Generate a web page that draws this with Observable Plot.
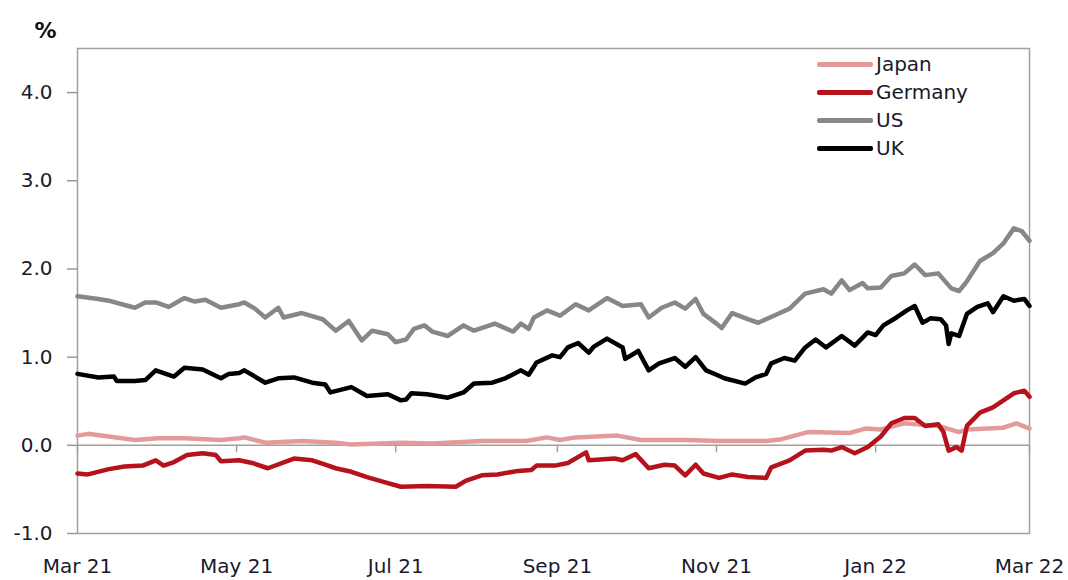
<!DOCTYPE html>
<html>
<head>
<meta charset="utf-8">
<script src="https://cdn.jsdelivr.net/npm/d3@7"></script>
<script src="https://cdn.jsdelivr.net/npm/@observablehq/plot@0.6"></script>
<style>
  html, body { margin: 0; padding: 0; background: #fff; }
  #wrap { position: relative; width: 1068px; height: 580px; font-family: "DejaVu Sans", Verdana, sans-serif; }
  #legend { position: absolute; left: 817px; top: 50px; }
  .row { display: flex; align-items: center; height: 28px; font-size: 20px; color: #1a1a2a; }
  .sw { width: 56px; height: 5px; border-radius: 2px; margin-right: 3px; }
  svg g[aria-label="y-axis tick"] path { stroke: #999; stroke-width: 1.5; }
</style>
</head>
<body>
<div id="wrap"><div id="legend"></div></div>
<script>
// ---- data ----
const seriesNames = ["Japan", "Germany", "US", "UK"];
const seriesColors = ["#e39a9b", "#b5121b", "#878787", "#000000"];

const japanDates = ["2021-03-01","2021-03-05","2021-03-13","2021-03-23","2021-04-01","2021-04-11","2021-04-25","2021-05-02","2021-05-04","2021-05-12","2021-05-26","2021-06-08","2021-06-14","2021-07-03","2021-07-15","2021-08-03","2021-08-20","2021-08-28","2021-09-02","2021-09-08","2021-09-24","2021-10-03","2021-10-20","2021-11-02","2021-11-20","2021-11-26","2021-12-06","2021-12-22","2021-12-28","2022-01-03","2022-01-12","2022-01-25","2022-02-02","2022-02-05","2022-02-19","2022-02-24","2022-03-01"];
const japanValues = [0.11,0.13,0.10,0.06,0.08,0.08,0.06,0.08,0.09,0.03,0.05,0.03,0.01,0.03,0.02,0.05,0.05,0.09,0.06,0.09,0.11,0.06,0.06,0.05,0.05,0.07,0.15,0.14,0.19,0.18,0.25,0.22,0.15,0.18,0.20,0.25,0.19];

const germanyDates = ["2021-03-01","2021-03-05","2021-03-13","2021-03-19","2021-03-26","2021-03-31","2021-04-03","2021-04-07","2021-04-12","2021-04-18","2021-04-23","2021-04-25","2021-05-02","2021-05-07","2021-05-13","2021-05-23","2021-05-30","2021-06-04","2021-06-08","2021-06-14","2021-06-20","2021-06-27","2021-07-03","2021-07-13","2021-07-24","2021-07-28","2021-08-03","2021-08-09","2021-08-17","2021-08-22","2021-08-24","2021-08-31","2021-09-05","2021-09-12","2021-09-13","2021-09-23","2021-09-26","2021-10-01","2021-10-06","2021-10-12","2021-10-16","2021-10-20","2021-10-24","2021-10-27","2021-11-02","2021-11-07","2021-11-13","2021-11-20","2021-11-22","2021-11-29","2021-12-05","2021-12-12","2021-12-15","2021-12-19","2021-12-24","2021-12-29","2022-01-03","2022-01-07","2022-01-12","2022-01-16","2022-01-20","2022-01-25","2022-01-27","2022-01-29","2022-02-01","2022-02-03","2022-02-05","2022-02-10","2022-02-15","2022-02-19","2022-02-23","2022-02-27","2022-03-01"];
const germanyValues = [-0.32,-0.33,-0.27,-0.24,-0.23,-0.17,-0.23,-0.19,-0.11,-0.09,-0.11,-0.18,-0.17,-0.20,-0.26,-0.15,-0.17,-0.22,-0.26,-0.30,-0.36,-0.42,-0.47,-0.46,-0.47,-0.40,-0.34,-0.33,-0.29,-0.28,-0.23,-0.23,-0.20,-0.08,-0.17,-0.15,-0.17,-0.10,-0.26,-0.22,-0.23,-0.34,-0.22,-0.32,-0.37,-0.33,-0.36,-0.37,-0.25,-0.17,-0.06,-0.05,-0.06,-0.02,-0.09,-0.02,0.10,0.25,0.31,0.31,0.22,0.24,0.15,-0.06,-0.02,-0.06,0.22,0.37,0.43,0.51,0.59,0.62,0.55];

const usDates = ["2021-03-01","2021-03-09","2021-03-13","2021-03-18","2021-03-23","2021-03-27","2021-03-31","2021-04-05","2021-04-11","2021-04-15","2021-04-19","2021-04-25","2021-05-02","2021-05-04","2021-05-08","2021-05-12","2021-05-17","2021-05-19","2021-05-26","2021-06-03","2021-06-08","2021-06-13","2021-06-18","2021-06-22","2021-06-28","2021-07-01","2021-07-05","2021-07-08","2021-07-12","2021-07-15","2021-07-21","2021-07-27","2021-07-31","2021-08-08","2021-08-15","2021-08-18","2021-08-21","2021-08-23","2021-08-28","2021-09-02","2021-09-08","2021-09-13","2021-09-20","2021-09-26","2021-10-03","2021-10-06","2021-10-11","2021-10-16","2021-10-20","2021-10-24","2021-10-27","2021-11-01","2021-11-03","2021-11-07","2021-11-13","2021-11-17","2021-11-23","2021-11-29","2021-12-05","2021-12-12","2021-12-15","2021-12-19","2021-12-22","2021-12-27","2021-12-29","2022-01-03","2022-01-07","2022-01-12","2022-01-16","2022-01-20","2022-01-25","2022-01-30","2022-02-02","2022-02-05","2022-02-10","2022-02-15","2022-02-19","2022-02-23","2022-02-26","2022-03-01"];
const usValues = [1.69,1.66,1.64,1.60,1.56,1.62,1.62,1.57,1.67,1.63,1.65,1.56,1.60,1.62,1.55,1.45,1.56,1.45,1.50,1.43,1.30,1.41,1.19,1.30,1.26,1.17,1.20,1.32,1.36,1.29,1.24,1.36,1.30,1.38,1.29,1.38,1.32,1.45,1.53,1.47,1.60,1.53,1.67,1.58,1.60,1.45,1.56,1.62,1.55,1.66,1.49,1.38,1.33,1.50,1.43,1.39,1.47,1.55,1.72,1.77,1.72,1.87,1.76,1.84,1.78,1.79,1.92,1.95,2.05,1.93,1.95,1.78,1.75,1.86,2.09,2.18,2.29,2.46,2.43,2.32];

const ukDates = ["2021-03-01","2021-03-09","2021-03-15","2021-03-16","2021-03-23","2021-03-27","2021-03-31","2021-04-05","2021-04-07","2021-04-11","2021-04-18","2021-04-25","2021-04-28","2021-05-02","2021-05-04","2021-05-12","2021-05-17","2021-05-23","2021-05-30","2021-06-04","2021-06-06","2021-06-14","2021-06-20","2021-06-28","2021-07-03","2021-07-05","2021-07-07","2021-07-13","2021-07-21","2021-07-27","2021-07-31","2021-08-07","2021-08-12","2021-08-18","2021-08-21","2021-08-24","2021-08-30","2021-09-02","2021-09-05","2021-09-09","2021-09-13","2021-09-15","2021-09-20","2021-09-26","2021-09-27","2021-10-02","2021-10-06","2021-10-10","2021-10-16","2021-10-20","2021-10-24","2021-10-28","2021-11-01","2021-11-04","2021-11-12","2021-11-16","2021-11-20","2021-11-22","2021-11-27","2021-12-01","2021-12-05","2021-12-09","2021-12-13","2021-12-19","2021-12-24","2021-12-29","2022-01-01","2022-01-04","2022-01-09","2022-01-13","2022-01-16","2022-01-19","2022-01-22","2022-01-26","2022-01-28","2022-01-29","2022-01-30","2022-02-02","2022-02-05","2022-02-09","2022-02-13","2022-02-15","2022-02-19","2022-02-23","2022-02-27","2022-03-01"];
const ukValues = [0.81,0.77,0.78,0.73,0.73,0.74,0.85,0.80,0.78,0.88,0.86,0.76,0.81,0.82,0.85,0.71,0.76,0.77,0.71,0.69,0.60,0.66,0.56,0.58,0.51,0.52,0.59,0.58,0.54,0.60,0.70,0.71,0.76,0.85,0.80,0.94,1.02,1.00,1.11,1.16,1.05,1.12,1.21,1.11,0.98,1.07,0.85,0.93,0.99,0.89,1.00,0.85,0.80,0.76,0.70,0.77,0.81,0.93,0.99,0.96,1.11,1.20,1.11,1.24,1.13,1.28,1.25,1.36,1.45,1.53,1.58,1.39,1.44,1.43,1.36,1.15,1.27,1.24,1.49,1.57,1.61,1.51,1.69,1.64,1.66,1.58];

const xTickDates = ["2021-03-01","2021-05-01","2021-07-01","2021-09-01","2021-11-01","2022-01-01","2022-03-01"];
const yTicks = [-1, 0, 1, 2, 3, 4];
const yDomain = [-1, 4.5];
const xDomain = ["2021-03-01", "2022-03-01"];
const yUnit = "%";

// ---- build table ----
const allDates = [japanDates, germanyDates, usDates, ukDates];
const allValues = [japanValues, germanyValues, usValues, ukValues];
const data = [];
seriesNames.forEach((name, i) => {
  allDates[i].forEach((d, j) => data.push({series: name, date: new Date(d), value: allValues[i][j]}));
});
const fmt = d3.utcFormat("%b %y");

const chart = Plot.plot({
  width: 1068,
  height: 580,
  marginLeft: 77,
  marginRight: 39,
  marginTop: 48,
  marginBottom: 47,
  style: {fontFamily: "DejaVu Sans, Verdana, sans-serif", fontSize: "20px", color: "#1a1a2a", background: "#fff"},
  x: {type: "utc", domain: xDomain.map(d => new Date(d))},
  y: {domain: yDomain},
  color: {domain: seriesNames, range: seriesColors},
  marks: [
    Plot.frame({stroke: "#a0a0a0", strokeWidth: 1.5}),
    Plot.ruleY([0], {stroke: "#a0a0a0", strokeWidth: 1.5}),
    Plot.ruleX(xTickDates.map(d => new Date(d)), {x: d => d, y1: 0, y2: -0.085, stroke: "#a0a0a0", strokeWidth: 1.5}),
    Plot.axisY({ticks: yTicks, tickSize: 10, tickPadding: 15, tickFormat: d => d.toFixed(1), label: null, fontSize: 20}),
    Plot.axisX({ticks: xTickDates.map(d => new Date(d)), tickSize: 0, tickPadding: 25, tickFormat: fmt, label: null, fontSize: 20}),
    Plot.line(data, {x: "date", y: "value", stroke: "series", z: "series", strokeWidth: 4.5, strokeLinejoin: "round", strokeLinecap: "round"}),
    Plot.text([yUnit], {frameAnchor: "top-left", text: d => d, dx: -43, dy: -26, fontWeight: "bold", fontSize: 22, fill: "#111"})
  ]
});
document.getElementById("wrap").prepend(chart);

const legend = document.getElementById("legend");
seriesNames.forEach((name, i) => {
  const row = document.createElement("div");
  row.className = "row";
  const sw = document.createElement("div");
  sw.className = "sw";
  sw.style.background = seriesColors[i];
  const lab = document.createElement("span");
  lab.textContent = name;
  row.appendChild(sw);
  row.appendChild(lab);
  legend.appendChild(row);
});
</script>
</body>
</html>
